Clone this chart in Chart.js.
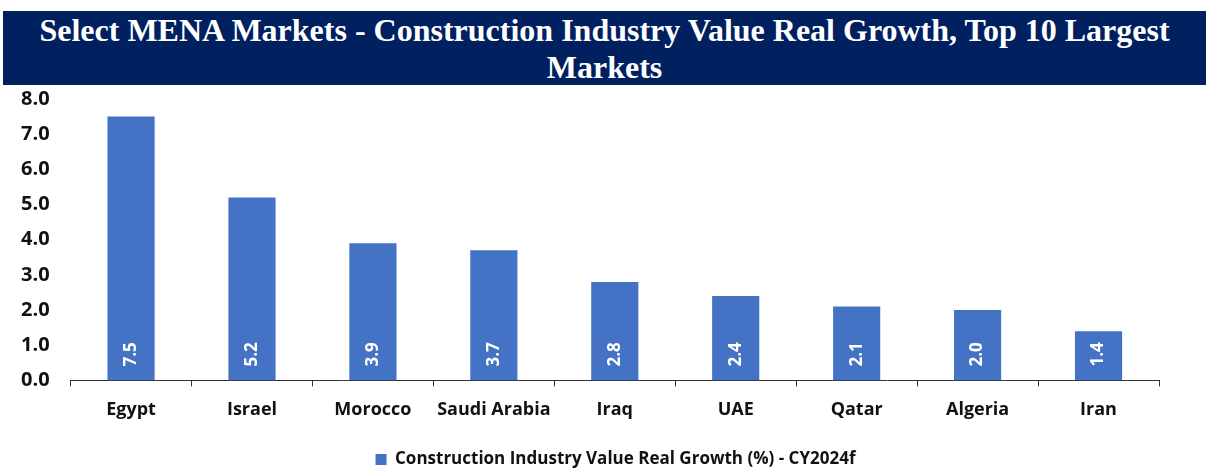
<!DOCTYPE html>
<html>
<head>
<meta charset="utf-8">
<script src="https://cdn.jsdelivr.net/npm/chart.js@4.4.0/dist/chart.umd.min.js"></script>
<style>
  html, body { margin: 0; padding: 0; background: #fff; }
  #wrap { position: relative; width: 1206px; height: 468px; }
  #banner {
    position: absolute; left: 3px; top: 11px; width: 1203px; height: 74px;
    background: #002060; color: #fff; text-align: center;
    font-family: "Liberation Serif", "DejaVu Serif", serif; font-weight: bold;
    font-size: 32px; line-height: 37px; padding-top: 1px; box-sizing: border-box;
  }
  canvas { position: absolute; left: 0; top: 0; }
</style>
</head>
<body>
<div id="wrap">
  <canvas id="chart" width="1206" height="468"></canvas>
  <div id="banner">Select MENA Markets - Construction Industry Value Real Growth, Top 10 Largest<br>Markets</div>
</div>
<script>
const markets = ["Egypt", "Israel", "Morocco", "Saudi Arabia", "Iraq", "UAE", "Qatar", "Algeria", "Iran"];
const growth = [7.5, 5.2, 3.9, 3.7, 2.8, 2.4, 2.1, 2.0, 1.4];
const seriesName = "Construction Industry Value Real Growth (%) - CY2024f";

const fontFam = "'Open Sans', Lato, sans-serif";

// white rotated labels near the bottom of each bar
const barLabels = {
    id: 'barLabels',
    afterDatasetsDraw(chart) {
        const ctx = chart.ctx;
        const meta = chart.getDatasetMeta(0);
        const y0 = chart.scales.y.getPixelForValue(0);
        ctx.save();
        ctx.fillStyle = '#ffffff';
        ctx.font = "bold 17px " + fontFam;
        ctx.textAlign = 'center';
        ctx.textBaseline = 'middle';
        meta.data.forEach(function (bar, i) {
            ctx.save();
            ctx.translate(bar.x, y0 - 26);
            ctx.rotate(-Math.PI / 2);
            ctx.fillText(growth[i].toFixed(1), 0, 0);
            ctx.restore();
        });
        ctx.restore();
    }
};

// legend in the original sits centred on the whole picture, not on the plot
const legendShift = {
    id: 'legendShift',
    afterUpdate(chart) {
        const lg = chart.legend;
        const dx = 36, dy = 3;
        lg.left += dx;
        lg.right += dx;
        lg.top += dy;
        lg.bottom += dy;
        lg.legendHitBoxes.forEach(function (h) { h.left += dx; h.top += dy; });
    }
};

new Chart(document.getElementById('chart'), {
    type: 'bar',
    data: {
        labels: markets,
        datasets: [{
            label: seriesName,
            data: growth,
            backgroundColor: '#4472C4',
            borderWidth: 0,
            barPercentage: 0.39,
            categoryPercentage: 1.0
        }]
    },
    options: {
        responsive: false,
        animation: false,
        layout: { padding: { top: 99, right: 47, left: 0, bottom: -7 } },
        plugins: {
            title: { display: false },
            tooltip: { enabled: false },
            legend: {
                position: 'bottom',
                labels: {
                    color: '#111',
                    font: { family: fontFam, size: 17, weight: 'bold' },
                    boxWidth: 11, boxHeight: 11, padding: 14
                }
            }
        },
        scales: {
            x: {
                offset: true,
                grid: { offset: true, drawOnChartArea: false, drawTicks: true, tickLength: 6, color: '#333' },
                border: { display: true, color: '#333', width: 1 },
                ticks: { color: '#111', font: { family: fontFam, size: 18, weight: 'bold' }, padding: 13 }
            },
            y: {
                min: 0, max: 8,
                grid: { display: false, drawTicks: false },
                border: { display: false },
                ticks: {
                    stepSize: 1, padding: 21, color: '#111',
                    font: { family: fontFam, size: 20, weight: 'bold' },
                    callback: function (v) { return Number(v).toFixed(1); }
                }
            }
        }
    },
    plugins: [barLabels, legendShift]
});
</script>
</body>
</html>
